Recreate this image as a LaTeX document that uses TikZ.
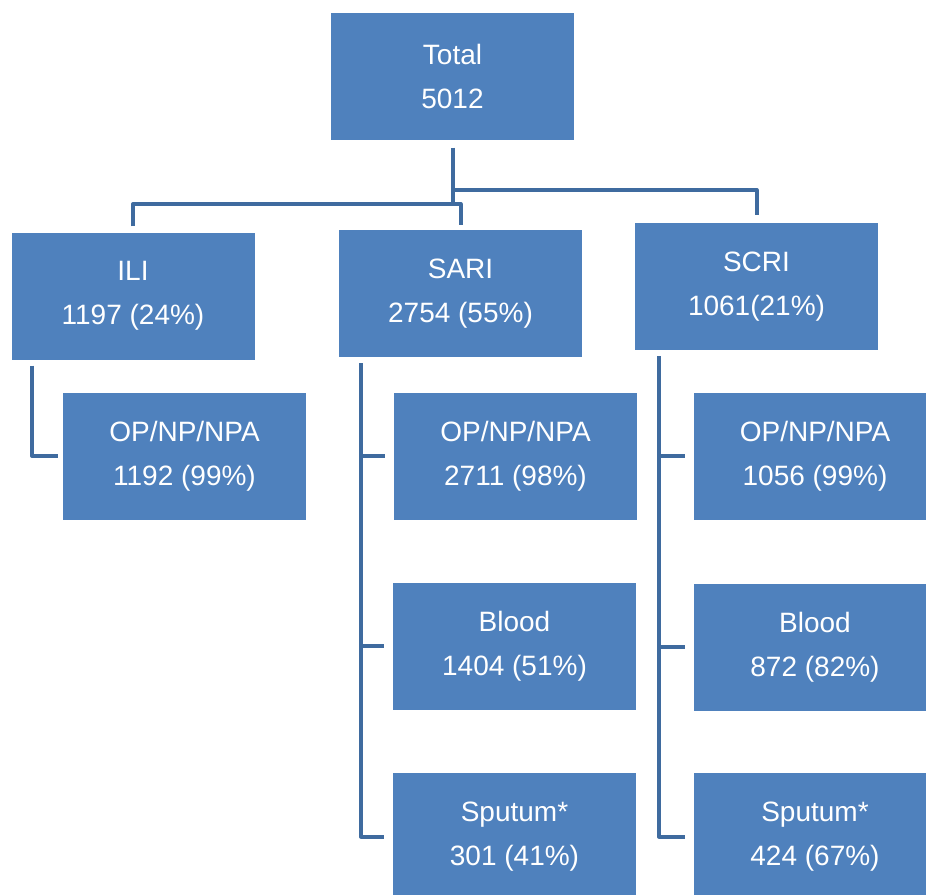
\documentclass[tikz,border=0pt]{standalone}
\usepackage{fontspec}
\setmainfont{Liberation Sans}
\definecolor{boxblue}{HTML}{4F81BD}
\definecolor{lineblue}{HTML}{3F6B9F}
\begin{document}
\begin{tikzpicture}[x=1pt,y=-1pt,
  box/.style={draw=none, fill=boxblue, text=white, minimum width=243pt,
    minimum height=127pt, inner sep=0pt, align=center,
    font=\fontsize{28}{44}\selectfont},
  conn/.style={draw=lineblue, line width=4pt, line join=round}]
\useasboundingbox (0,0) rectangle (926,894);
\begin{scope}
\clip (0,0) rectangle (926,894);
% boxes
\node[box] (total) at (452.5,76) {Total\\5012};
\node[box] (ili) at (133,296) {ILI\\1197 (24\%)};
\node[box] (sari) at (460.5,293.5) {SARI\\2754 (55\%)};
\node[box] (scri) at (756.5,286.5) {SCRI\\1061(21\%)};
\node[box] (iliop) at (184.5,456) {OP/NP/NPA\\1192 (99\%)};
\node[box] (sariop) at (515.5,456) {OP/NP/NPA\\2711 (98\%)};
\node[box] (scriop) at (815,456) {OP/NP/NPA\\1056 (99\%)};
\node[box] (sariblood) at (514.5,646) {Blood\\1404 (51\%)};
\node[box] (scriblood) at (815,647) {Blood\\872 (82\%)};
\node[box] (sarisput) at (514.5,836.5) {Sputum*\\301 (41\%)};
\node[box] (scrisput) at (815,836.5) {Sputum*\\424 (67\%)};
% connectors from total
\coordinate (hili) at (0,204);
\coordinate (hscri) at (0,190);
\draw[conn] ([yshift=-8pt]total.south) -- (total.south |- hili);
\draw[conn] ([yshift=6pt]ili.north) |- (sari.north |- hili) -- ([yshift=5pt]sari.north);
\draw[conn] (total.south |- hscri) -| ([yshift=8pt]scri.north);
% ILI children
\coordinate (ilitrunk) at ([xshift=21pt,yshift=-6pt]ili.south west);
\draw[conn] (ilitrunk) |- ([xshift=-5pt]iliop.west);
% SARI children
\coordinate (saritrunk) at ([xshift=22pt,yshift=-6pt]sari.south west);
\draw[conn] (saritrunk) |- ([xshift=-9pt]sarisput.west);
\draw[conn] (saritrunk |- sariop.west) -- ([xshift=-9pt]sariop.west);
\draw[conn] (saritrunk |- sariblood.west) -- ([xshift=-9pt]sariblood.west);
% SCRI children
\coordinate (scritrunk) at ([xshift=24pt,yshift=-6pt]scri.south west);
\draw[conn] (scritrunk) |- ([xshift=-8pt]scrisput.west);
\draw[conn] (scritrunk |- scriop.west) -- ([xshift=-8pt]scriop.west);
\draw[conn] (scritrunk |- scriblood.west) -- ([xshift=-8pt]scriblood.west);
\end{scope}
\end{tikzpicture}
\end{document}
